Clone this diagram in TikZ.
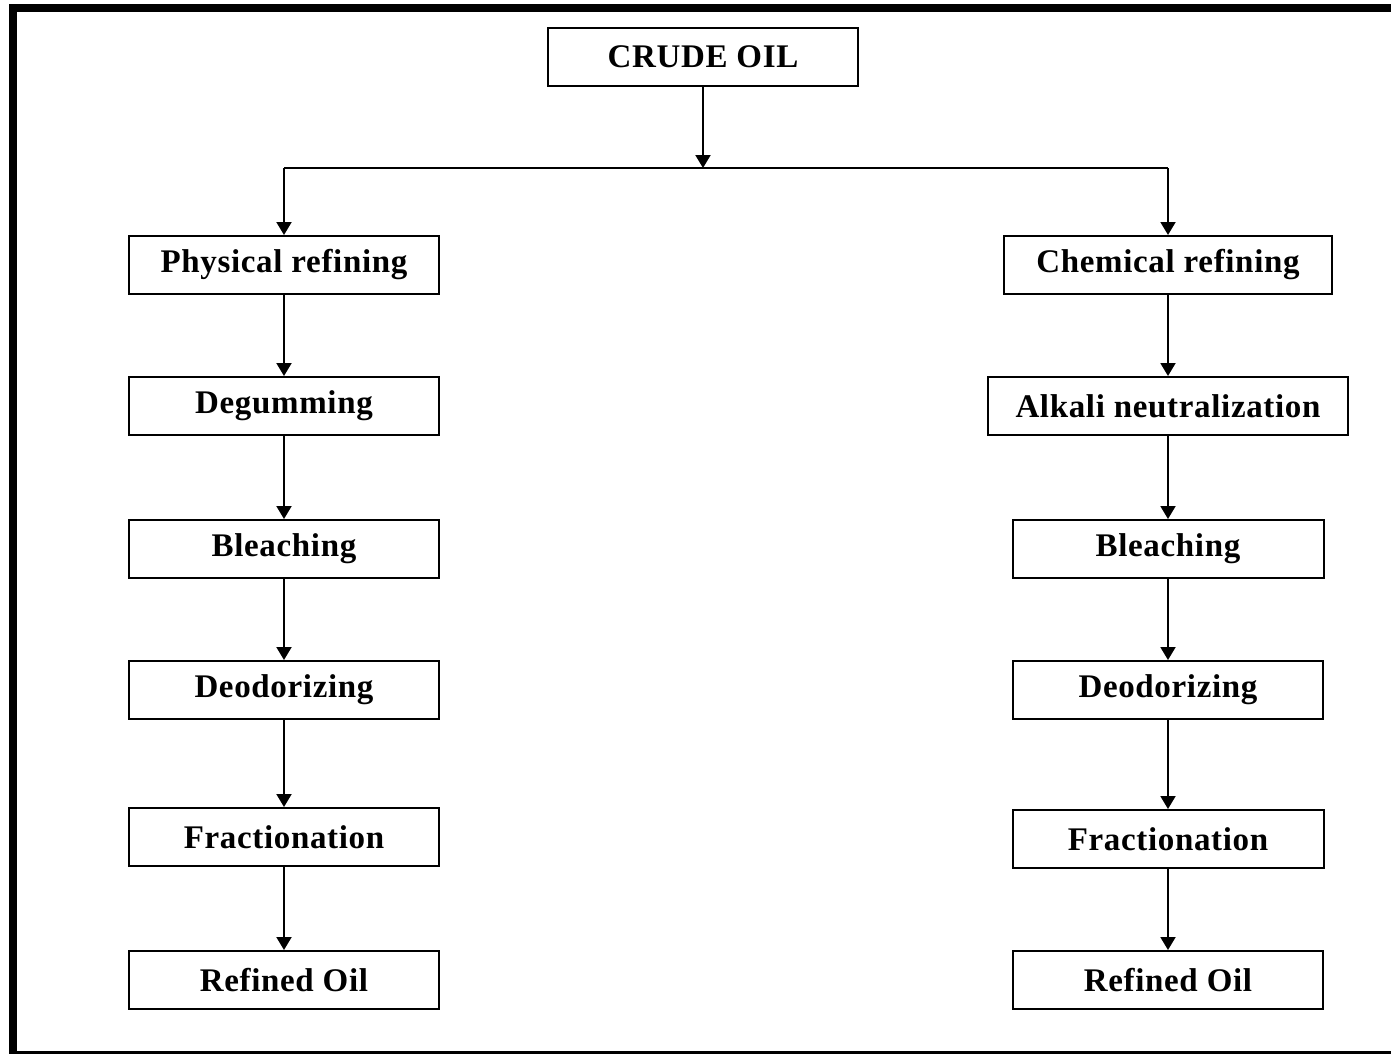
\documentclass[tikz,border=0pt]{standalone}
\usepackage{fontspec}
\setmainfont[LetterSpace=2]{Liberation Serif}
\usetikzlibrary{arrows.meta}
\begin{document}
\begin{tikzpicture}[x=1pt, y=-1pt, box style/.style={draw, line width=2pt, rectangle, minimum height=58pt, inner sep=0pt, font=\fontsize{33}{38}\selectfont\bfseries}, arrow style/.style={line width=2pt, -{Triangle[width=15pt,length=13pt]}}]
	\useasboundingbox (0,0) rectangle (1391,1054);
	% frame
	\fill (9,4) rectangle (1391,12);
	\fill (9,4) rectangle (17,1054);
	\fill (9,1051) rectangle (1391,1054);
	\node[box style, minimum width=310pt] (Crude) at (703, 57) {CRUDE OIL};
	\coordinate (J) at (703, 168);
	\coordinate (JL) at (284, 168);
	\coordinate (JR) at (1168, 168);
	% physical refining
	\node[box style, minimum width=310pt] (P1) at (284, 265) {Physical refining};
	\node[box style, minimum width=310pt] (P2) at (284, 406) {Degumming};
	\node[box style, minimum width=310pt] (P3) at (284, 549) {Bleaching};
	\node[box style, minimum width=310pt] (P4) at (284, 690) {Deodorizing};
	\node[box style, minimum width=310pt] (P5) at (284, 837) {Fractionation};
	\node[box style, minimum width=310pt] (P6) at (284, 980) {Refined Oil};
	% chemical refining
	\node[box style, minimum width=328pt] (C1) at (1168, 265) {Chemical refining};
	\node[box style, minimum width=360pt] (C2) at (1168, 406) {Alkali neutralization};
	\node[box style, minimum width=311pt] (C3) at (1168, 549) {Bleaching};
	\node[box style, minimum width=310pt] (C4) at (1168, 690) {Deodorizing};
	\node[box style, minimum width=311pt] (C5) at (1168, 839) {Fractionation};
	\node[box style, minimum width=310pt] (C6) at (1168, 980) {Refined Oil};
	\draw[arrow style] (Crude) -- (J);
	\draw[line width=2pt] (JL) -- (JR);
	\draw[arrow style] (JL) -- (P1);
	\draw[arrow style] (JR) -- (C1);
	\draw[arrow style] (P1) -- (P2);
	\draw[arrow style] (P2) -- (P3);
	\draw[arrow style] (P3) -- (P4);
	\draw[arrow style] (P4) -- (P5);
	\draw[arrow style] (P5) -- (P6);
	\draw[arrow style] (C1) -- (C2);
	\draw[arrow style] (C2) -- (C3);
	\draw[arrow style] (C3) -- (C4);
	\draw[arrow style] (C4) -- (C5);
	\draw[arrow style] (C5) -- (C6);
\end{tikzpicture}
\end{document}
